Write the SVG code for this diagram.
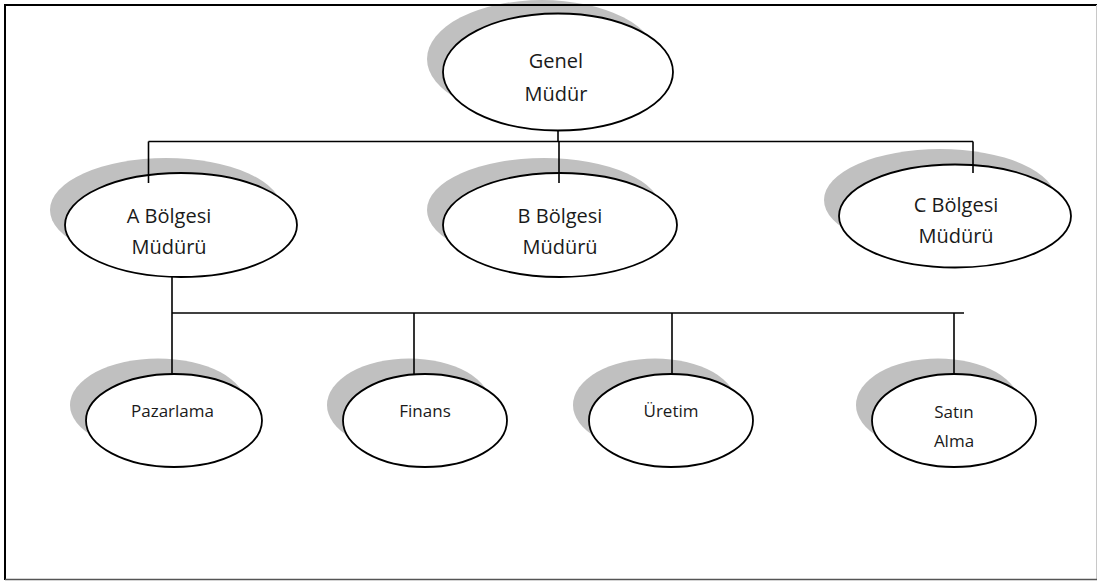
<svg xmlns="http://www.w3.org/2000/svg" width="1097" height="581" viewBox="0 0 1097 581">
<style>
.sh{fill:#c0c0c0;stroke:none}
.nd{fill:#ffffff;stroke:#000000;stroke-width:1.8}
.cn{stroke:#000000;stroke-width:1.6;fill:none}
.t1{font-family:"Open Sans","Noto Sans","DejaVu Sans",sans-serif;font-size:20px;fill:#1a1a1a;text-anchor:middle}
.t2{font-family:"Open Sans","Noto Sans","DejaVu Sans",sans-serif;font-size:17px;fill:#1a1a1a;text-anchor:middle}
</style>
<rect x="0" y="0" width="1097" height="581" fill="#ffffff"/>
<g id="shadows">
<ellipse class="sh" cx="542" cy="59" rx="115" ry="59"/>
<ellipse class="sh" cx="166" cy="210" rx="116" ry="52"/>
<ellipse class="sh" cx="544" cy="210" rx="117" ry="52"/>
<ellipse class="sh" cx="940" cy="200" rx="116" ry="51"/>
<ellipse class="sh" cx="158" cy="405" rx="88" ry="46.5"/>
<ellipse class="sh" cx="409" cy="405" rx="82" ry="46.5"/>
<ellipse class="sh" cx="655" cy="405" rx="82" ry="46.5"/>
<ellipse class="sh" cx="938" cy="405" rx="82" ry="46.5"/>
</g>
<g id="border">
<line x1="5" y1="5" x2="1097" y2="5" stroke="#000" stroke-width="1.8"/>
<line x1="5" y1="4" x2="5" y2="580" stroke="#000" stroke-width="2"/>
<line x1="1096.5" y1="5" x2="1096.5" y2="580" stroke="#c8c8c8" stroke-width="1"/>
<line x1="5" y1="579.5" x2="1097" y2="579.5" stroke="#555555" stroke-width="1.5"/>
</g>
<g id="node-genel">
<ellipse class="nd" cx="558" cy="72" rx="115" ry="58.5"/>
<text class="t1" x="556" y="68">Genel</text>
<text class="t1" x="556" y="101">Müdür</text>
</g>
<g id="node-a">
<ellipse class="nd" cx="181" cy="225" rx="116" ry="52"/>
<text class="t1" x="169" y="223">A Bölgesi</text>
<text class="t1" x="169" y="254">Müdürü</text>
</g>
<g id="node-b">
<ellipse class="nd" cx="560" cy="225" rx="117" ry="52"/>
<text class="t1" x="560" y="223">B Bölgesi</text>
<text class="t1" x="560" y="254">Müdürü</text>
</g>
<g id="node-c">
<ellipse class="nd" cx="955" cy="216" rx="116" ry="51.5"/>
<text class="t1" x="956" y="212">C Bölgesi</text>
<text class="t1" x="956" y="243">Müdürü</text>
</g>
<g id="node-pazarlama">
<ellipse class="nd" cx="174" cy="420.5" rx="88" ry="46.5"/>
<text class="t2" x="172.5" y="417">Pazarlama</text>
</g>
<g id="node-finans">
<ellipse class="nd" cx="425" cy="420.5" rx="82" ry="46.5"/>
<text class="t2" x="425" y="417">Finans</text>
</g>
<g id="node-uretim">
<ellipse class="nd" cx="671" cy="420.5" rx="82" ry="46.5"/>
<text class="t2" x="671" y="417">Üretim</text>
</g>
<g id="node-satin">
<ellipse class="nd" cx="954" cy="420.5" rx="82" ry="46.5"/>
<text class="t2" x="954" y="418">Satın</text>
<text class="t2" x="954" y="447">Alma</text>
</g>
<g id="connectors">
<line class="cn" x1="558" y1="130" x2="558" y2="141.5"/>
<line class="cn" x1="148.5" y1="141.5" x2="973" y2="141.5"/>
<line class="cn" x1="148.5" y1="141.5" x2="148.5" y2="183"/>
<line class="cn" x1="559" y1="141.5" x2="559" y2="183"/>
<line class="cn" x1="973" y1="141.5" x2="973" y2="173"/>
<line class="cn" x1="172" y1="277" x2="172" y2="313"/>
<line class="cn" x1="172" y1="313" x2="964" y2="313"/>
<line class="cn" x1="172" y1="313" x2="172" y2="374"/>
<line class="cn" x1="414" y1="313" x2="414" y2="374"/>
<line class="cn" x1="672" y1="313" x2="672" y2="374"/>
<line class="cn" x1="954" y1="313" x2="954" y2="374"/>
</g>
</svg>
